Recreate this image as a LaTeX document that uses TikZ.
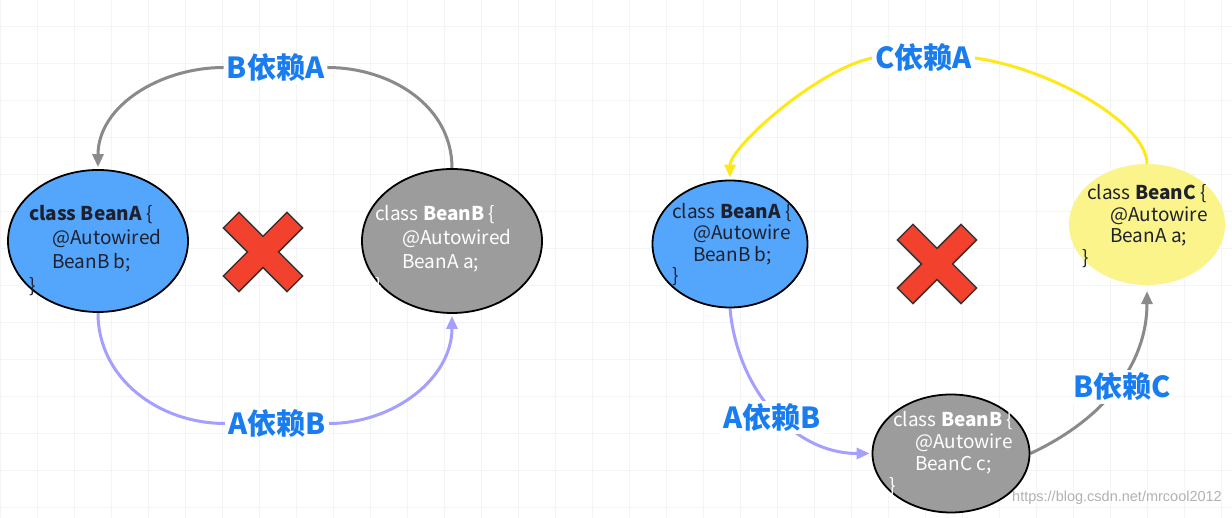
\documentclass[tikz,border=0pt]{standalone}
\usepackage{fontspec}
\newfontfamily\cjk{Noto Sans CJK SC}
\newfontfamily\wmfont{Liberation Sans}
\usetikzlibrary{arrows.meta,shapes.geometric}
\definecolor{beanblue}{RGB}{84,166,252}
\definecolor{beangray}{RGB}{156,156,156}
\definecolor{beanyel}{RGB}{250,244,138}
\definecolor{lblblue}{RGB}{25,125,240}
\definecolor{arrlav}{RGB}{165,160,255}
\definecolor{arrgray}{RGB}{138,138,138}
\definecolor{arryel}{RGB}{255,232,25}
\definecolor{codedark}{RGB}{30,32,45}
\definecolor{xred}{RGB}{242,66,45}
\definecolor{xedge}{RGB}{60,50,50}
\definecolor{gridc}{RGB}{243,244,246}
\pgfdeclarelayer{gridlayer}
\pgfdeclarelayer{connlayer}
\pgfsetlayers{gridlayer,connlayer,main}
\tikzset{
  bean/.style={ellipse, draw=black, line width=1.8pt, inner sep=0pt},
  codetext/.style={anchor=base west, inner sep=0pt, align=left},
  codeL/.style={codetext, font=\cjk\fontsize{19}{24}\selectfont},
  codeR/.style={codetext, font=\cjk\fontsize{19}{21.5}\selectfont},
  lbl/.style={font=\cjk\bfseries\fontsize{29}{31}\selectfont, text=lblblue, fill=white, inner sep=3pt},
  conn/.style={line width=3pt},
  arrowend/.style={-{Triangle[length=13pt,width=11pt]}, shorten >=2pt},
  redx/.style={fill=xred, draw=xedge, line width=1.5pt, line join=miter},
  gridline/.style={draw=gridc, line width=0.9pt},
}
\newcommand{\xmarkshape}{(-11,-45) -- (11,-45) -- (11,-11) -- (45,-11) -- (45,11) -- (11,11) -- (11,45) -- (-11,45) -- (-11,11) -- (-45,11) -- (-45,-11) -- (-11,-11) -- cycle}
\begin{document}
\begin{tikzpicture}[x=1pt,y=1pt]
\useasboundingbox (0,0) rectangle (1232,518);
\begin{pgfonlayer}{gridlayer}
  \fill[white] (0,0) rectangle (1232,518);
  \foreach \gx in {0,37,...,1232} \draw[gridline] (\gx,0) -- (\gx,518);
  \foreach \gy in {492,455,...,0} \draw[gridline] (0,\gy) -- (1232,\gy);
\end{pgfonlayer}

% ---------- left diagram ----------
\node[bean, fill=beanblue, minimum width=180pt, minimum height=142pt] (lBa) at (98,277) {};
\node[bean, fill=beangray, minimum width=180pt, minimum height=144pt] (lBb) at (452,277) {};
\node[codeL, text=codedark] (lBaT) at (29,225.5) {\textbf{class BeanA} \{\\\hspace*{23pt}@Autowired\\\hspace*{23pt}BeanB b;\\\}};
\node[codeL, text=white] (lBbT) at (375,225.5) {class \textbf{BeanB} \{\\\hspace*{27pt}@Autowired\\\hspace*{27pt}BeanA a;\\\}};
\coordinate (lX) at (263,266);
\draw[redx, shift={(lX)}, rotate=45] \xmarkshape;

\node[lbl] (lblBA) at (275.5,450.5) {B依赖A};
\node[lbl] (lblAB) at (277,94.5) {A依赖B};

\begin{pgfonlayer}{connlayer}
  \draw[conn, draw=arrgray] (lBb.north) to[out=90,in=0] (lblBA.east);
  \draw[conn, draw=arrgray, arrowend] (lblBA.west) to[out=180,in=90] (lBa.north);
  \draw[conn, draw=arrlav] (lBa.south) to[out=-90,in=180] (lblAB.west);
  \draw[conn, draw=arrlav, arrowend] (lblAB.east) to[out=0,in=-90] (lBb.south);
\end{pgfonlayer}

% ---------- right diagram ----------
\node[bean, fill=beanblue, minimum width=155pt, minimum height=127pt] (rBa) at (730,274) {};
\node[ellipse, fill=beanyel, inner sep=0pt, minimum width=156pt, minimum height=121pt] (rBc) at (1147,293.5) {};
\node[bean, fill=beangray, minimum width=157pt, minimum height=118pt] (rBb) at (951,64.5) {};
\node[codeR, text=codedark] (rBaT) at (672,235) {class \textbf{BeanA} \{\\\hspace*{21pt}@Autowire\\\hspace*{21pt}BeanB b;\\\}};
\node[codeR, text=codedark, font=\cjk\fontsize{19}{21.7}\selectfont] (rBcT) at (1087,253.4) {class \textbf{BeanC} \{\\\hspace*{23pt}@Autowire\\\hspace*{23pt}BeanA a;\\\hspace*{-5pt}\}};
\node[codeR, text=white, font=\cjk\fontsize{19}{22}\selectfont] (rBbT) at (893,25.5) {class \textbf{BeanB} \{\\\hspace*{22pt}@Autowire\\\hspace*{22pt}BeanC c;\\\hspace*{-4pt}\}};
\coordinate (rX) at (937,254);
\draw[redx, shift={(rX)}, rotate=45] \xmarkshape;

\node[lbl] (lblCA) at (923.5,460) {C依赖A};
\node[lbl] (lblAB2) at (772,100.5) {A依赖B};
\node[lbl] (lblBC) at (1122.5,131) {B依赖C};

\begin{pgfonlayer}{connlayer}
  \draw[conn, draw=arryel] (rBc.north) .. controls +(0,40) and +(77,-11) .. (lblCA.east);
  \draw[conn, draw=arryel, arrowend] (lblCA.west) .. controls +(-56,-12) and +(0,32) .. (rBa.north);
  \draw[conn, draw=arrlav, arrowend] (rBa.south) to[out=-85,in=180] (rBb.west);
  \draw[conn, draw=arrgray, arrowend, shorten >=6pt] (rBb.east) to[out=25,in=-90] (rBc.south);
\end{pgfonlayer}

\node[font=\wmfont\fontsize{14.5}{16}\selectfont, text=gray!60, anchor=east, inner sep=0pt] (wm) at (1222,20) {https://blog.csdn.net/mrcool2012};
\end{tikzpicture}
\end{document}
